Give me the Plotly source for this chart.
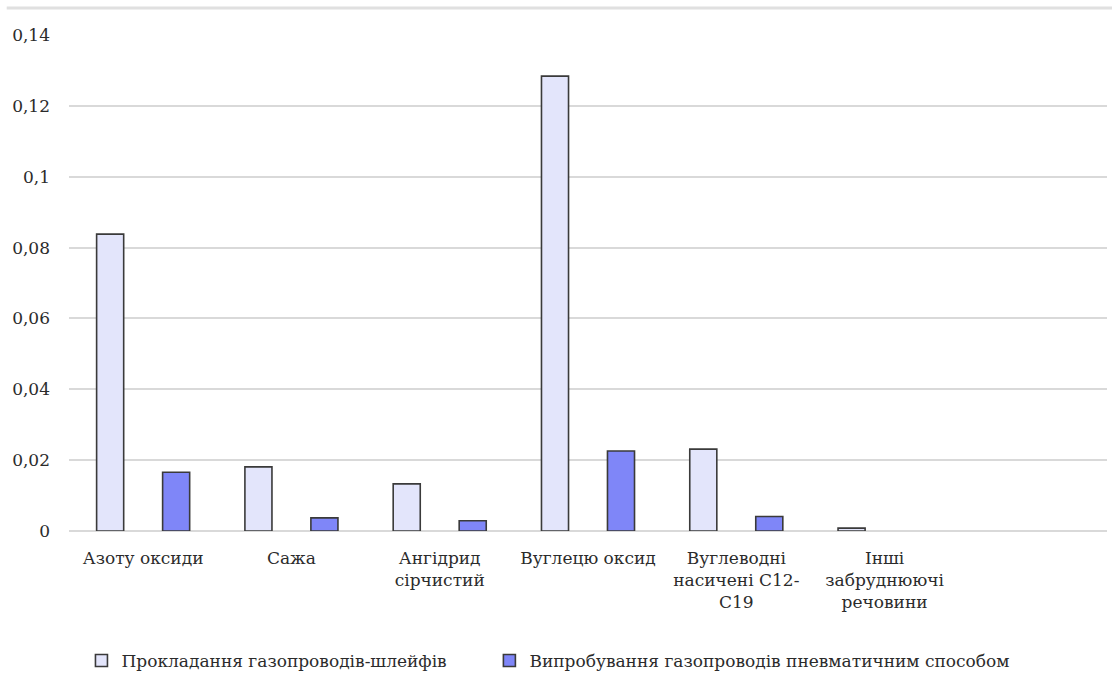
import plotly.graph_objects as go

# Emission categories (the last slot is left empty on the axis)
categories = [
    "Азоту оксиди",
    "Сажа",
    "Ангідрид<br>сірчистий",
    "Вуглецю оксид",
    "Вуглеводні<br>насичені С12-<br>С19",
    "Інші<br>забруднюючі<br>речовини",
]
axis_slots = categories + [" "]

series_names = [
    "Прокладання газопроводів-шлейфів",
    "Випробування газопроводів пневматичним способом",
]
laying_values = [0.0838, 0.0181, 0.0133, 0.1284, 0.0231, 0.0008]
testing_values = [0.0166, 0.0037, 0.0029, 0.0226, 0.0041, 0.0]

y_ticks = [0, 0.02, 0.04, 0.06, 0.08, 0.1, 0.12, 0.14]
y_tick_text = ["0", "0,02", "0,04", "0,06", "0,08", "0,1", "0,12", "0,14"]

font_family = "DejaVu Serif"
text_color = "#2b2b2b"
outline = "#3a3a3a"

fig = go.Figure()
fig.add_trace(go.Bar(
    x=categories, y=laying_values, name=series_names[0], legend="legend",
    marker=dict(color="#e3e5fb", line=dict(color=outline, width=1.6)),
))
fig.add_trace(go.Bar(
    x=categories, y=testing_values, name=series_names[1], legend="legend2",
    marker=dict(
        color="#7f86f8",
        # an empty (zero) bar gets no outline
        line=dict(color=outline, width=[1.6 if v > 0 else 0 for v in testing_values]),
    ),
))

legend_style = dict(
    orientation="h", xanchor="left", y=-0.262, yanchor="middle",
    font=dict(family=font_family, size=17, color=text_color),
    itemwidth=30, bgcolor="rgba(0,0,0,0)",
)

fig.update_layout(
    width=1112, height=675,
    margin=dict(l=69, r=5, t=35, b=144, autoexpand=False),
    paper_bgcolor="white", plot_bgcolor="white",
    barmode="group", bargap=0.11, bargroupgap=0.59,
    font=dict(family=font_family, size=17, color=text_color),
    showlegend=True,
    legend=dict(x=0.012, **legend_style),
    legend2=dict(x=0.405, **legend_style),
    xaxis=dict(
        type="category", categoryorder="array", categoryarray=axis_slots,
        range=[-0.5, 6.5], showgrid=False, showline=False, ticks="",
        ticklabelstandoff=15,
        tickfont=dict(family=font_family, size=17, color=text_color),
    ),
    yaxis=dict(
        range=[0, 0.14], tickvals=y_ticks, ticktext=y_tick_text,
        showgrid=True, gridcolor="#d9d9d9", gridwidth=1.5,
        zeroline=True, zerolinecolor="#d9d9d9", zerolinewidth=1.5,
        showline=False, ticks="", ticklabelstandoff=18,
        tickfont=dict(family=font_family, size=17, color=text_color),
    ),
    shapes=[dict(
        type="line", xref="paper", yref="paper",
        x0=-0.06, x1=1.01, y0=1 + 27 / 496, y1=1 + 27 / 496,
        line=dict(color="#e0e0e0", width=3),
    )],
)

fig.write_html("out.html")
